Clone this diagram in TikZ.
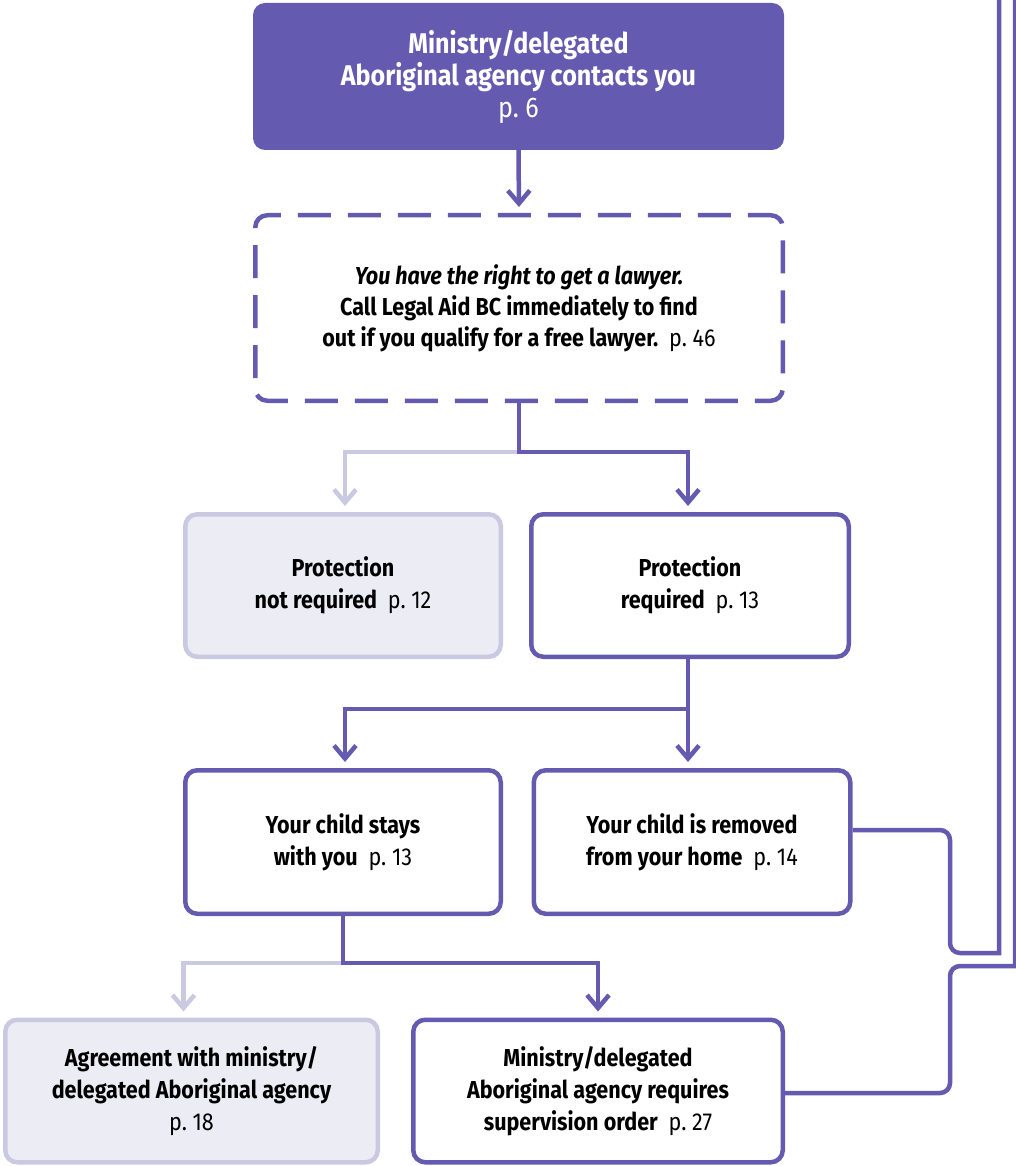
\documentclass[tikz,border=0pt]{standalone}
\usepackage{fontspec}
\setmainfont{Fira Sans}[FakeStretch=0.88]
\usetikzlibrary{arrows.meta}
\definecolor{pur}{HTML}{645BB1}
\definecolor{lpur}{HTML}{CBC8E1}
\definecolor{lfill}{HTML}{ECECF4}
\tikzset{
  boxbase/.style={rounded corners=12pt, align=center, inner sep=0pt,
    font=\fontsize{24.5}{32}\selectfont\bfseries},
  darkbox/.style={boxbase, draw=pur, line width=4.5pt, fill=white},
  lightbox/.style={boxbase, draw=lpur, line width=4.5pt, fill=lfill},
  dashbox/.style={boxbase, draw=pur, line width=4.5pt, fill=white,
    dash pattern=on 33pt off 17pt, dash phase=10pt,
    font=\fontsize{24.5}{31}\selectfont\bfseries},
  topbox/.style={boxbase, fill=pur, text=white,
    font=\fontsize{28.5}{32}\selectfont\bfseries},
  link/.style={line width=4.5pt, draw=pur},
  lightlink/.style={line width=4.5pt, draw=lpur},
  tip/.style={-{Straight Barb[length=13pt, width=22pt]}, shorten >=6pt}
}
\newcommand{\pgref}[1]{\mdseries\ p.~#1}
\begin{document}
\begin{tikzpicture}[x=1pt, y=-1pt]
\useasboundingbox (0,0) rectangle (1016,1166);
% boxes
\node[topbox, minimum width=531pt, minimum height=147pt] (top) at (518.5,76.5)
  {Ministry/delegated\\Aboriginal agency contacts you\\\mdseries p.~6};
\node[dashbox, minimum width=527.5pt, minimum height=185.5pt] (law) at (519,308)
  {\itshape You have the right to get a lawyer.\\Call Legal Aid BC immediately to find\\out if you qualify for a free lawyer.\ \pgref{46}};
\node[lightbox, minimum width=315.5pt, minimum height=142.5pt] (notreq) at (343,585.5)
  {Protection\\not required\ \pgref{12}};
\node[darkbox, minimum width=317.5pt, minimum height=142.5pt] (req) at (690,585.5)
  {Protection\\required\ \pgref{13}};
\node[darkbox, minimum width=315.5pt, minimum height=143.5pt] (stays) at (343,842)
  {Your child stays\\with you\ \pgref{13}};
\node[darkbox, minimum width=316.5pt, minimum height=143.5pt] (rem) at (692,842)
  {Your child is removed\\from your home\ \pgref{14}};
\node[lightbox, minimum width=372.5pt, minimum height=142.5pt] (agree) at (191.5,1091)
  {Agreement with ministry/\\delegated Aboriginal agency\\\mdseries p.~18};
\node[darkbox, minimum width=369.5pt, minimum height=142.5pt] (sup) at (598,1091)
  {Ministry/delegated\\Aboriginal agency requires\\supervision order\ \pgref{27}};
% junctions
\coordinate (j1) at (law.south |- 0,452);
\coordinate (j2) at (688,709);
\coordinate (j3) at (stays.south |- 0,963);
\coordinate (t1) at (999,0);
\coordinate (t2) at (1015,0);
% connectors
\draw[link, tip] (top.south) -- (law.north);
\draw[lightlink, tip] (j1) -| ([xshift=2pt]notreq.north);
\draw[link, tip] (law.south) -- (j1) -| ([xshift=-2pt]req.north);
\draw[link] (req.south -| j2) -- (j2);
\draw[link, tip] (j2) -| ([xshift=2pt]stays.north);
\draw[link, tip] (j2) -- (j2 |- rem.north);
\draw[lightlink, tip] (j3) -| ([xshift=-8pt]agree.north);
\draw[link, tip] (stays.south) -- (j3) -| (sup.north);
\draw[link, rounded corners=10pt] (rem.east |- 0,830) -- (950,830) -- (950,953) [sharp corners] -- (t1 |- 0,953) -- (t1);
\draw[link, rounded corners=10pt] (sup.east |- 0,1093) -- (950,1093) -- (950,966) [sharp corners] -- (t2 |- 0,966) -- (t2);
\end{tikzpicture}
\end{document}
